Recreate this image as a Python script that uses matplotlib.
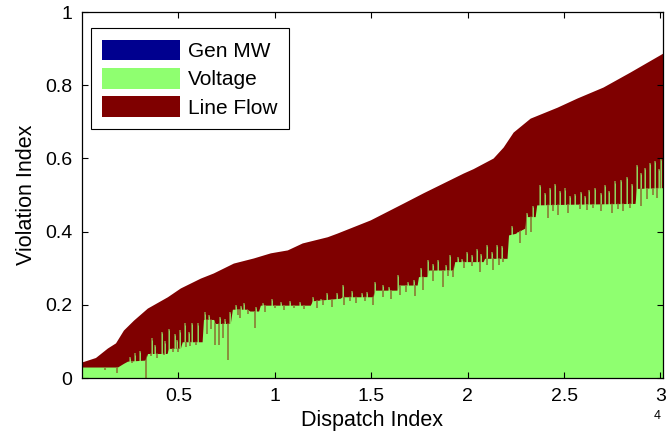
import matplotlib
matplotlib.use("Agg")
import matplotlib.pyplot as plt
from matplotlib.patches import Patch

plt.rcParams['font.family'] = ['Liberation Sans', 'DejaVu Sans']

# ---- data ----
# total violation index (upper envelope) : dispatch index, value
total_x = [1, 700, 1320, 1740, 2150, 2670, 3390, 4430, 5100, 6140, 6810, 7850,
           8890, 9770, 10650, 11420, 12720, 13230, 14950, 16660, 17690, 19770,
           20280, 21320, 21840, 22360, 23240, 24640, 25670, 27020, 28420, 30130]
total_y = [0.044, 0.056, 0.082, 0.096, 0.131, 0.158, 0.191, 0.222, 0.246, 0.273,
           0.287, 0.314, 0.328, 0.342, 0.350, 0.369, 0.386, 0.396, 0.432, 0.478,
           0.506, 0.560, 0.572, 0.601, 0.631, 0.672, 0.710, 0.740, 0.765, 0.795,
           0.836, 0.888]

# voltage component (typical level)
volt_x = [1, 1840, 2150, 2360, 3290, 3400, 4410, 4500, 5100, 5200, 6230, 6300,
          6830, 6900, 7690, 7800, 8560, 8700, 9160, 9250, 11840, 11950, 13390,
          13500, 15100, 15200, 16350, 16450, 17380, 17450, 17900, 17980, 19250,
          19330, 20800, 20880, 22040, 22120, 22460, 22980, 23050, 23500, 23580,
          25570, 28680, 28760, 30130]
volt_y = [0.030, 0.030, 0.040, 0.046, 0.049, 0.067, 0.067, 0.081, 0.081, 0.099,
          0.099, 0.160, 0.160, 0.149, 0.149, 0.188, 0.188, 0.183, 0.183, 0.199,
          0.199, 0.211, 0.218, 0.222, 0.222, 0.240, 0.240, 0.254, 0.254, 0.277,
          0.277, 0.295, 0.295, 0.318, 0.318, 0.327, 0.327, 0.391, 0.395, 0.410,
          0.441, 0.441, 0.473, 0.475, 0.477, 0.518, 0.520]

# individual dispatches with voltage index above the typical level
up_x = [2500, 2772, 3000, 3637, 3800, 4155, 4300, 4497, 4800, 4950, 5103, 5362,
        5550, 5725, 6036, 6399, 6600, 7176, 7400, 7694, 8000, 8250, 8400, 9000,
        9400, 9854, 10300, 10800, 11300, 12000, 12400, 12704, 13230, 13548,
        14000, 14500, 14800, 15206, 15600, 15900, 16398, 16900, 17200, 17600,
        17952, 18200, 18470, 18900, 19092, 19500, 19700, 19973, 20200, 20491,
        20700, 21009, 21250, 21527, 21800, 22304, 22600, 22850, 23100, 23400,
        23755, 24000, 24290, 24533, 24800, 25050, 25300, 25569, 25880, 26100,
        26300, 26605, 26900, 27123, 27350, 27640, 27950, 28262, 28500, 28781,
        29000, 29195, 29454, 29713, 29900, 30024]
up_y = [0.058, 0.067, 0.075, 0.108, 0.090, 0.126, 0.100, 0.135, 0.120, 0.105,
        0.130, 0.149, 0.125, 0.150, 0.149, 0.179, 0.172, 0.167, 0.160, 0.181,
        0.200, 0.196, 0.205, 0.195, 0.205, 0.215, 0.208, 0.210, 0.208, 0.222,
        0.215, 0.233, 0.233, 0.254, 0.238, 0.232, 0.236, 0.263, 0.255, 0.250,
        0.281, 0.262, 0.268, 0.300, 0.322, 0.312, 0.322, 0.310, 0.336, 0.330,
        0.326, 0.345, 0.335, 0.352, 0.340, 0.364, 0.345, 0.364, 0.360, 0.416,
        0.400, 0.405, 0.450, 0.470, 0.527, 0.505, 0.520, 0.529, 0.510, 0.518,
        0.498, 0.504, 0.508, 0.497, 0.515, 0.520, 0.505, 0.527, 0.510, 0.537,
        0.542, 0.550, 0.530, 0.582, 0.560, 0.573, 0.587, 0.593, 0.570, 0.598]

# individual dispatches with voltage index below the typical level
down_x = [1200, 1839, 2600, 3342, 3600, 3900, 4250, 4700, 5000, 5400, 5621,
          5900, 6500, 6700, 6917, 7088, 7300, 7554, 8100, 8200, 8600, 8989, 9500,
          10000, 10500, 11000, 11500, 12200, 12500, 12979, 13600, 13900, 14200,
          14700, 15103, 15600, 16000, 16500, 16800, 17279, 17700, 18200, 18729,
          19000, 19247, 19800, 20200, 20646, 21000, 21320, 21600, 21838, 22700,
          23000, 23300, 24170, 24400, 24700, 25200, 25800, 26190, 26500, 26900,
          27485, 27800, 28055, 28400, 29000, 29300, 29600, 29817]
down_y = [0.022, 0.015, 0.040, 0.000, 0.060, 0.055, 0.062, 0.070, 0.072, 0.085,
          0.088, 0.090, 0.120, 0.135, 0.090, 0.090, 0.110, 0.049, 0.172, 0.165,
          0.175, 0.136, 0.180, 0.190, 0.185, 0.192, 0.188, 0.190, 0.200, 0.195,
          0.200, 0.210, 0.205, 0.210, 0.200, 0.220, 0.215, 0.228, 0.235, 0.225,
          0.240, 0.265, 0.250, 0.280, 0.277, 0.300, 0.305, 0.290, 0.308, 0.295,
          0.310, 0.318, 0.370, 0.390, 0.400, 0.436, 0.455, 0.445, 0.450, 0.462,
          0.459, 0.465, 0.455, 0.450, 0.462, 0.455, 0.465, 0.470, 0.490, 0.500,
          0.491]

xtick_vals = [5000, 10000, 15000, 20000, 25000, 30000]
xtick_labels = ['0.5', '1', '1.5', '2', '2.5', '3']
ytick_vals = [0, 0.2, 0.4, 0.6, 0.8, 1.0]
ytick_labels = ['0', '0.2', '0.4', '0.6', '0.8', '1']

c_gen = '#00008f'
c_volt = '#8fff70'
c_line = '#7f0000'
c_spike = '#8a7a35'

fig = plt.figure(figsize=(6.66, 4.4), dpi=100)
ax = fig.add_axes([0.1231, 0.1409, 0.8724, 0.8318])

# line-flow part (top of the stack)
ax.fill_between(total_x, 0, total_y, color=c_line, lw=0, zorder=1)
# dispatches where voltage rises into the line-flow part
ax.vlines(up_x, 0.0, up_y, color=c_spike, lw=1.4, zorder=1.5)
ax.vlines(up_x, 0.0, [v - 0.003 for v in up_y], color=c_volt, lw=0.5, zorder=1.6)
# voltage part
volt_poly = ax.fill_between(volt_x, 0, volt_y, color=c_volt, lw=0, zorder=2)
# dispatches where line flow reaches down into the voltage part
down = ax.vlines(down_x, down_y, [1.0] * len(down_x), color=c_spike, lw=1.2,
                 zorder=2.2)
down.set_clip_path(volt_poly.get_paths()[0], ax.transData)

ax.set_xlim(1, 30130)
ax.set_ylim(0, 1)
ax.set_xticks(xtick_vals)
ax.set_xticklabels(xtick_labels)
ax.set_yticks(ytick_vals)
ax.set_yticklabels(ytick_labels)
ax.tick_params(direction='in', length=4, width=0.8, labelsize=14,
               top=True, right=True, colors='black')
ax.tick_params(axis='x', pad=7)
ax.tick_params(axis='y', pad=7)
for s in ax.spines.values():
    s.set_linewidth(0.9)
    s.set_zorder(5)
ax.set_axisbelow(False)

ax.set_xlabel('Dispatch Index', fontsize=15.5, labelpad=4)
ax.set_ylabel('Violation Index', fontsize=15.5, labelpad=6)
fig.text(0.987, 0.055, '4', fontsize=9, ha='center', va='center')

handles = [Patch(facecolor=c_gen, edgecolor='none', label='Gen MW'),
           Patch(facecolor=c_volt, edgecolor='none', label='Voltage'),
           Patch(facecolor=c_line, edgecolor='none', label='Line Flow')]
leg = ax.legend(handles=handles, loc='upper left', bbox_to_anchor=(0.0155, 0.956),
                borderaxespad=0, fontsize=15, handlelength=3.7, handleheight=1.15,
                labelspacing=0.33, handletextpad=0.4, borderpad=0.55,
                fancybox=False, framealpha=1, edgecolor='black')
leg.get_frame().set_linewidth(0.8)
leg.set_zorder(6)

fig.savefig('out.png', dpi=100)
